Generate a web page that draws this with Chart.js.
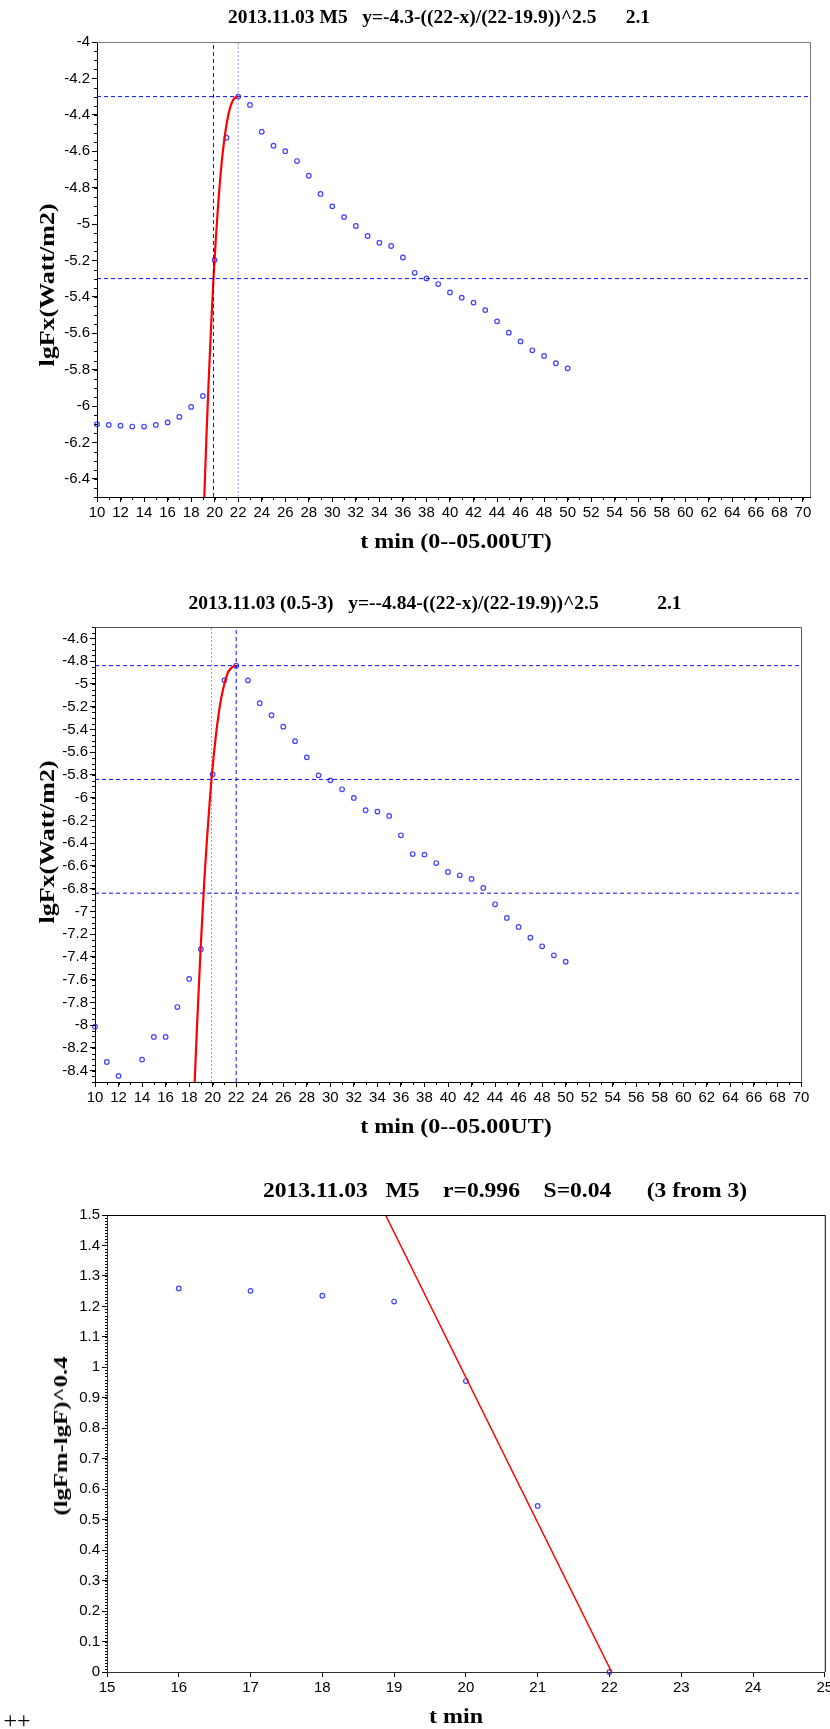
<!DOCTYPE html>
<html>
<head>
<meta charset="utf-8">
<script src="https://cdn.jsdelivr.net/npm/chart.js@4.4.1/dist/chart.umd.min.js"></script>
<style>
body { margin: 0; background: #fff; }
#page { position: relative; width: 830px; height: 1729px; overflow: hidden; background: #fff; }
canvas { position: absolute; left: 0; }
.txt { position: absolute; transform: translate(-50%, -50%); white-space: pre; font-family: 'Liberation Serif', 'Times New Roman', serif; font-weight: bold; color: #000; }
.wide { transform: translate(-50%, -50%) scaleX(1.2); }
.wide3 { transform: translate(-50%, -50%) scaleX(1.15); }
.rot { transform: translate(-50%, -50%) rotate(-90deg) scaleX(1.3); }
</style>
</head>
<body>
<div id="page">
  <canvas id="c1" width="830" height="560" style="top:0px"></canvas>
  <canvas id="c2" width="830" height="580" style="top:560px"></canvas>
  <canvas id="c3" width="830" height="589" style="top:1140px"></canvas>

  <div class="txt" style="left:439px; top:17px; font-size:19.5px">2013.11.03 M5   y=-4.3-((22-x)/(22-19.9))^2.5      2.1</div>
  <div class="txt wide" style="left:456px; top:541px; font-size:20px">t min (0--05.00UT)</div>
  <div class="txt rot" style="left:47px; top:285px; font-size:20px">lgFx(Watt/m2)</div>

  <div class="txt" style="left:435px; top:603px; font-size:19.5px">2013.11.03 (0.5-3)   y=--4.84-((22-x)/(22-19.9))^2.5            2.1</div>
  <div class="txt wide" style="left:456px; top:1126px; font-size:20px">t min (0--05.00UT)</div>
  <div class="txt rot" style="left:47px; top:842px; font-size:20px">lgFx(Watt/m2)</div>

  <div class="txt wide3" style="left:505px; top:1190px; font-size:20.5px">2013.11.03   M5    r=0.996    S=0.04      (3 from 3)</div>
  <div class="txt wide" style="left:456px; top:1716px; font-size:20px">t min</div>
  <div class="txt rot" style="left:61px; top:1436px; font-size:19px">(lgFm-lgF)^0.4</div>
  <div class="txt" style="left:17px; top:1720px; font-size:24px; font-weight:normal">++</div>
</div>

<script>
// minutes after 00 UT
const minutes = [10, 11, 12, 13, 14, 15, 16, 17, 18, 19, 20, 21, 22, 23, 24, 25, 26, 27, 28, 29,
    30, 31, 32, 33, 34, 35, 36, 37, 38, 39, 40, 41, 42, 43, 44, 45, 46, 47, 48, 49, 50];

// panel 1: lgFx, 0.1-0.8 nm
const lgF1 = [-6.100, -6.104, -6.108, -6.113, -6.113, -6.104, -6.090, -6.060, -6.005, -5.945,
    -5.198, -4.526, -4.300, -4.346, -4.493, -4.570, -4.600, -4.654, -4.735, -4.835,
    -4.903, -4.962, -5.011, -5.066, -5.103, -5.121, -5.184, -5.268, -5.299, -5.330,
    -5.376, -5.405, -5.432, -5.473, -5.535, -5.597, -5.645, -5.694, -5.725, -5.765, -5.793];

// panel 2: lgFx, 0.5-3 A (13 min is off scale)
const lgF2 = [-8.014, -8.324, -8.447, null, -8.303, -8.104, -8.104, -7.841, -7.594, -7.333,
    -5.795, -4.969, -4.840, -4.969, -5.170, -5.276, -5.376, -5.504, -5.646, -5.804,
    -5.848, -5.927, -6.003, -6.111, -6.123, -6.161, -6.331, -6.496, -6.501, -6.575,
    -6.654, -6.683, -6.715, -6.794, -6.938, -7.058, -7.137, -7.231, -7.307, -7.386, -7.442];

// red fitted rise
const fitT1 = [19.12, 19.3, 19.5, 19.7, 19.9, 20.1, 20.3, 20.5, 20.7, 20.9, 21.1, 21.3, 21.5, 21.7, 21.9, 22];
const fitF1 = [-6.50, -6.17, -5.85, -5.56, -5.30, -5.08, -4.89, -4.73, -4.60, -4.50, -4.42, -4.364, -4.328, -4.308, -4.301, -4.30];
const fitT2 = [18.47, 18.7, 19.0, 19.3, 19.5, 19.7, 19.9, 20.1, 20.3, 20.5, 20.7, 20.9, 21.1, 21.3, 21.5, 21.7, 22];
const fitF2 = [-8.50, -7.94, -7.28, -6.71, -6.39, -6.10, -5.84, -5.62, -5.43, -5.27, -5.14, -5.04, -4.96, -4.90, -4.87, -4.85, -4.84];

// marker lines
const startT = 19.9;
const peakT = 22;
const levels1 = [-4.3, -5.3];
const levels2 = [-4.84, -5.84, -6.84];

// panel 3: (lgFm-lgF)^0.4
const tRise = [16, 17, 18, 19, 20, 21, 22];
const powRise = [1.259, 1.251, 1.235, 1.216, 0.955, 0.545, 0];
const lineT = [18.88, 22.03];
const lineP = [1.5, 0];

// tick labels
const xTicks12 = [10, 12, 14, 16, 18, 20, 22, 24, 26, 28, 30, 32, 34, 36, 38, 40, 42, 44, 46, 48, 50,
    52, 54, 56, 58, 60, 62, 64, 66, 68, 70];
const yTicks1 = [-4, -4.2, -4.4, -4.6, -4.8, -5, -5.2, -5.4, -5.6, -5.8, -6, -6.2, -6.4];
const yTicks2 = [-4.6, -4.8, -5, -5.2, -5.4, -5.6, -5.8, -6, -6.2, -6.4, -6.6, -6.8, -7, -7.2, -7.4,
    -7.6, -7.8, -8, -8.2, -8.4];
const xTicks3 = [15, 16, 17, 18, 19, 20, 21, 22, 23, 24, 25];
const yTicks3 = [0, 0.1, 0.2, 0.3, 0.4, 0.5, 0.6, 0.7, 0.8, 0.9, 1, 1.1, 1.2, 1.3, 1.4, 1.5];

const tickFont = { family: "'Liberation Sans Narrow', 'Liberation Sans', Arial, sans-serif", size: 15 };

function xy(xs, ys) {
    return xs.map((x, i) => ({ x: x, y: ys[i] }));
}

const minorTicks = {
    id: 'minorTicks',
    afterDraw(chart, args, opts) {
        const ctx = chart.ctx;
        ctx.save();
        ctx.strokeStyle = '#000';
        ctx.lineWidth = 1;
        ['x', 'y'].forEach(id => {
            const o = opts[id];
            if (!o) return;
            const s = chart.scales[id];
            const k0 = Math.ceil(s.min / o.step - 1e-6);
            const k1 = Math.floor(s.max / o.step + 1e-6);
            ctx.beginPath();
            for (let k = k0; k <= k1; k++) {
                const p = Math.round(s.getPixelForValue(k * o.step)) + 0.5;
                if (id === 'x') {
                    ctx.moveTo(p, s.top);
                    ctx.lineTo(p, s.top + o.len);
                } else {
                    ctx.moveTo(s.right - o.len, p);
                    ctx.lineTo(s.right, p);
                }
            }
            ctx.stroke();
        });
        ctx.restore();
    }
};

const frame = {
    id: 'frame',
    afterDraw(chart, args, opts) {
        const a = chart.chartArea;
        const ctx = chart.ctx;
        ctx.save();
        ctx.strokeStyle = opts.color || '#000';
        ctx.lineWidth = 1;
        ctx.beginPath();
        ctx.moveTo(a.left, a.top + 0.5);
        ctx.lineTo(a.right + 0.5, a.top + 0.5);
        ctx.lineTo(a.right + 0.5, a.bottom);
        ctx.stroke();
        ctx.restore();
    }
};

function makeChart(id, p) {
    const canvas = document.getElementById(id);
    const W = canvas.width, H = canvas.height;
    const fmt = v => String(Math.round(v * 100) / 100);
    return new Chart(canvas, {
        type: 'scatter',
        data: { datasets: p.datasets },
        options: {
            responsive: false,
            animation: false,
            events: [],
            layout: { padding: { left: 0, top: p.area.top, right: W - p.area.right, bottom: 0 } },
            plugins: {
                legend: { display: false },
                tooltip: { enabled: false },
                minorTicks: p.minor,
                frame: { color: p.frameColor }
            },
            scales: {
                x: {
                    type: 'linear', min: p.x.min, max: p.x.max,
                    afterBuildTicks: s => { s.ticks = p.x.ticks.map(v => ({ value: v })); },
                    afterFit: s => {
                        s.height = H - p.area.bottom;
                        s.paddingLeft = 0;
                        s.paddingRight = 0;
                    },
                    ticks: { callback: fmt, autoSkip: false, maxRotation: 0, padding: 2, color: '#000', font: tickFont },
                    grid: { drawOnChartArea: false, drawTicks: true, tickLength: 5, color: '#000' },
                    border: { display: true, color: p.axisColor || '#000', width: 1 }
                },
                y: {
                    type: 'linear', min: p.y.min, max: p.y.max,
                    afterBuildTicks: s => { s.ticks = p.y.ticks.map(v => ({ value: v })); },
                    afterFit: s => {
                        s.width = p.area.left;
                        s.paddingTop = 0;
                        s.paddingBottom = 0;
                    },
                    ticks: { callback: fmt, autoSkip: false, padding: 2, color: '#000', font: tickFont },
                    grid: { drawOnChartArea: false, drawTicks: true, tickLength: 5, color: '#000' },
                    border: { display: true, color: p.axisColor || '#000', width: 1 }
                }
            }
        },
        plugins: [minorTicks, frame]
    });
}

function points(data) {
    return {
        data: data, showLine: false, clip: 4,
        pointRadius: 2.3, pointBorderWidth: 1.2,
        pointBorderColor: 'rgba(30, 30, 255, 0.85)', pointBackgroundColor: 'rgba(0, 0, 0, 0)'
    };
}

function fitLine(data, width) {
    return {
        data: data, showLine: true, pointRadius: 0, borderColor: '#ff0000', borderWidth: width,
        cubicInterpolationMode: 'monotone', clip: 0
    };
}

function dashLine(data, color, dash) {
    return {
        data: data, showLine: true, pointRadius: 0, borderColor: color, borderWidth: 1,
        borderDash: dash, clip: 0
    };
}

const dark = 'rgba(0, 0, 255, 0.95)';
const light = 'rgba(60, 60, 255, 0.55)';

// panel 1
const y1min = -6.5, y1max = -4;
makeChart('c1', {
    area: { left: 97, top: 42, right: 810, bottom: 497 },
    x: { min: 10, max: 70.6, ticks: xTicks12 },
    y: { min: y1min, max: y1max, ticks: yTicks1 },
    minor: { x: { step: 1, len: 3 }, y: { step: 0.05, len: 3 } },
    frameColor: '#777',
    datasets: [
        dashLine(xy([startT, startT], [y1min, y1max]), dark, [4, 3]),
        dashLine(xy([peakT, peakT], [y1min, y1max]), light, [2, 2]),
        ...levels1.map(l => dashLine(xy([10, 70.6], [l, l]), dark, [4, 3])),
        fitLine(xy(fitT1, fitF1), 2.2),
        points(xy(minutes, lgF1))
    ]
});

// panel 2
const y2min = -8.5, y2max = -4.5;
makeChart('c2', {
    area: { left: 95, top: 67, right: 801, bottom: 522 },
    x: { min: 10, max: 70, ticks: xTicks12 },
    y: { min: y2min, max: y2max, ticks: yTicks2 },
    minor: { x: { step: 1, len: 3 }, y: { step: 0.05, len: 3 } },
    frameColor: '#555',
    datasets: [
        dashLine(xy([startT, startT], [y2min, y2max]), light, [2, 2]),
        dashLine(xy([peakT, peakT], [y2min, y2max]), dark, [4, 3]),
        ...levels2.map(l => dashLine(xy([10, 70], [l, l]), dark, [4, 3])),
        fitLine(xy(fitT2, fitF2), 2.2),
        points(xy(minutes, lgF2))
    ]
});

// panel 3
makeChart('c3', {
    area: { left: 107, top: 75, right: 826, bottom: 532 },
    x: { min: 15, max: 25, ticks: xTicks3 },
    y: { min: 0, max: 1.5, ticks: yTicks3 },
    minor: { y: { step: 0.01, len: 2 } },
    frameColor: '#000',
    axisColor: '#333',
    datasets: [
        fitLine(xy(lineT, lineP), 1.5),
        points(xy(tRise, powRise))
    ]
});
</script>
</body>
</html>
